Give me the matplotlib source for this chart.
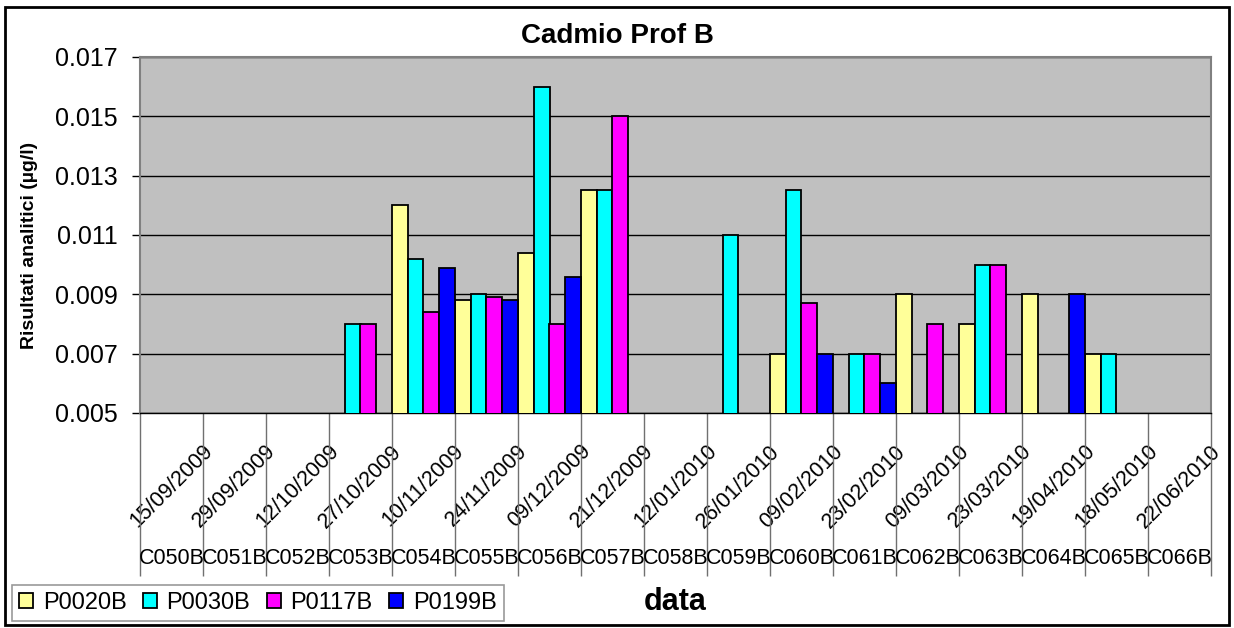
import numpy as np
import matplotlib
matplotlib.use("Agg")
import matplotlib.pyplot as plt
from matplotlib.patches import Rectangle
import matplotlib.transforms as mtransforms

plt.rcParams['font.family'] = ['Liberation Sans', 'DejaVu Sans']

codes = ["C050B", "C051B", "C052B", "C053B", "C054B", "C055B", "C056B", "C057B", "C058B",
         "C059B", "C060B", "C061B", "C062B", "C063B", "C064B", "C065B", "C066B"]
dates = ["15/09/2009", "29/09/2009", "12/10/2009", "27/10/2009", "10/11/2009", "24/11/2009",
         "09/12/2009", "21/12/2009", "12/01/2010", "26/01/2010", "09/02/2010", "23/02/2010",
         "09/03/2010", "23/03/2010", "19/04/2010", "18/05/2010", "22/06/2010"]
nan = np.nan
p0020b = [nan, nan, nan, nan, 0.012, 0.0088, 0.0104, 0.0125, nan,
          nan, 0.007, nan, 0.009, 0.008, 0.009, 0.007, nan]
p0030b = [nan, nan, nan, 0.008, 0.0102, 0.009, 0.016, 0.0125, nan,
          0.011, 0.0125, 0.007, nan, 0.010, nan, 0.007, nan]
p0117b = [nan, nan, nan, 0.008, 0.0084, 0.0089, 0.008, 0.015, nan,
          nan, 0.0087, 0.007, 0.008, 0.010, nan, nan, nan]
p0199b = [nan, nan, nan, nan, 0.0099, 0.0088, 0.0096, nan, nan,
          nan, 0.007, 0.006, nan, nan, 0.009, nan, nan]
series = [("P0020B", p0020b, "#FFFF99"), ("P0030B", p0030b, "#00FFFF"),
          ("P0117B", p0117b, "#FF00FF"), ("P0199B", p0199b, "#0000FF")]

W, H = 1234, 628
fig = plt.figure(figsize=(W / 100, H / 100), dpi=100)
ax = fig.add_axes([140 / W, 1 - 413 / H, (1211 - 140) / W, (413 - 57) / H])
ax.set_facecolor("#C0C0C0")

x = np.arange(len(codes))
bw = 0.25
for k, (name, vals, col) in enumerate(series):
    ax.bar(x + (k - 1.5) * bw, vals, width=bw, color=col, edgecolor="black",
           linewidth=1.3, label=name, zorder=3)

ax.set_xlim(-0.5, len(codes) - 0.5)
ax.set_ylim(0.005, 0.017)
yt = np.arange(0.005, 0.0171, 0.002)
ax.set_yticks(yt)
ax.set_yticklabels([f"{v:.3f}" for v in yt], fontsize=18)
ax.tick_params(axis="y", length=6, width=1, pad=10)
ax.yaxis.grid(True, color="black", linewidth=1, zorder=1)
ax.set_axisbelow(True)

ax.set_xticks(x)
ax.set_xticklabels(dates, rotation=45, ha="center", fontsize=15.5)
ax.tick_params(axis="x", which="major", length=0, pad=20)
ax.set_xticks(np.arange(len(codes) + 1) - 0.5, minor=True)
ax.tick_params(axis="x", which="minor", length=117, width=1, color="#707070")

trans = mtransforms.blended_transform_factory(ax.transData, ax.transAxes)
for i, c in enumerate(codes):
    ax.text(i, (413 - 558) / 356, c, transform=trans, ha="center", va="center", fontsize=15.5)

for s in ["top", "left", "right"]:
    ax.spines[s].set_color("#808080")
    ax.spines[s].set_linewidth(1.5)
ax.spines["bottom"].set_color("black")
ax.spines["bottom"].set_linewidth(1)

fig.text(617 / W, 1 - 36 / H, "Cadmio Prof B", ha="center", va="center",
         fontsize=20, fontweight="bold")
fig.text(30 / W, 1 - 245 / H, "Risultati analitici (µg/l)", ha="center", va="center",
         rotation=90, fontsize=14, fontweight="bold")
fig.text(675 / W, 1 - 602 / H, "data", ha="center", va="center",
         fontsize=22, fontweight="bold")

leg = fig.legend(loc="lower left", bbox_to_anchor=(12 / W, 1 - 621 / H), ncol=4,
                 fontsize=17, frameon=True, fancybox=False, edgecolor="#808080",
                 handlelength=0.6, handleheight=0.6, handletextpad=0.4,
                 columnspacing=0.7, borderaxespad=0, borderpad=0.3)
leg.get_frame().set_linewidth(1.2)

fig.patches.append(Rectangle((5 / W, 1 - 625 / H), 1224 / W, 618 / H, transform=fig.transFigure,
                             fill=False, edgecolor="black", linewidth=2))

fig.savefig("out.png", dpi=100)
